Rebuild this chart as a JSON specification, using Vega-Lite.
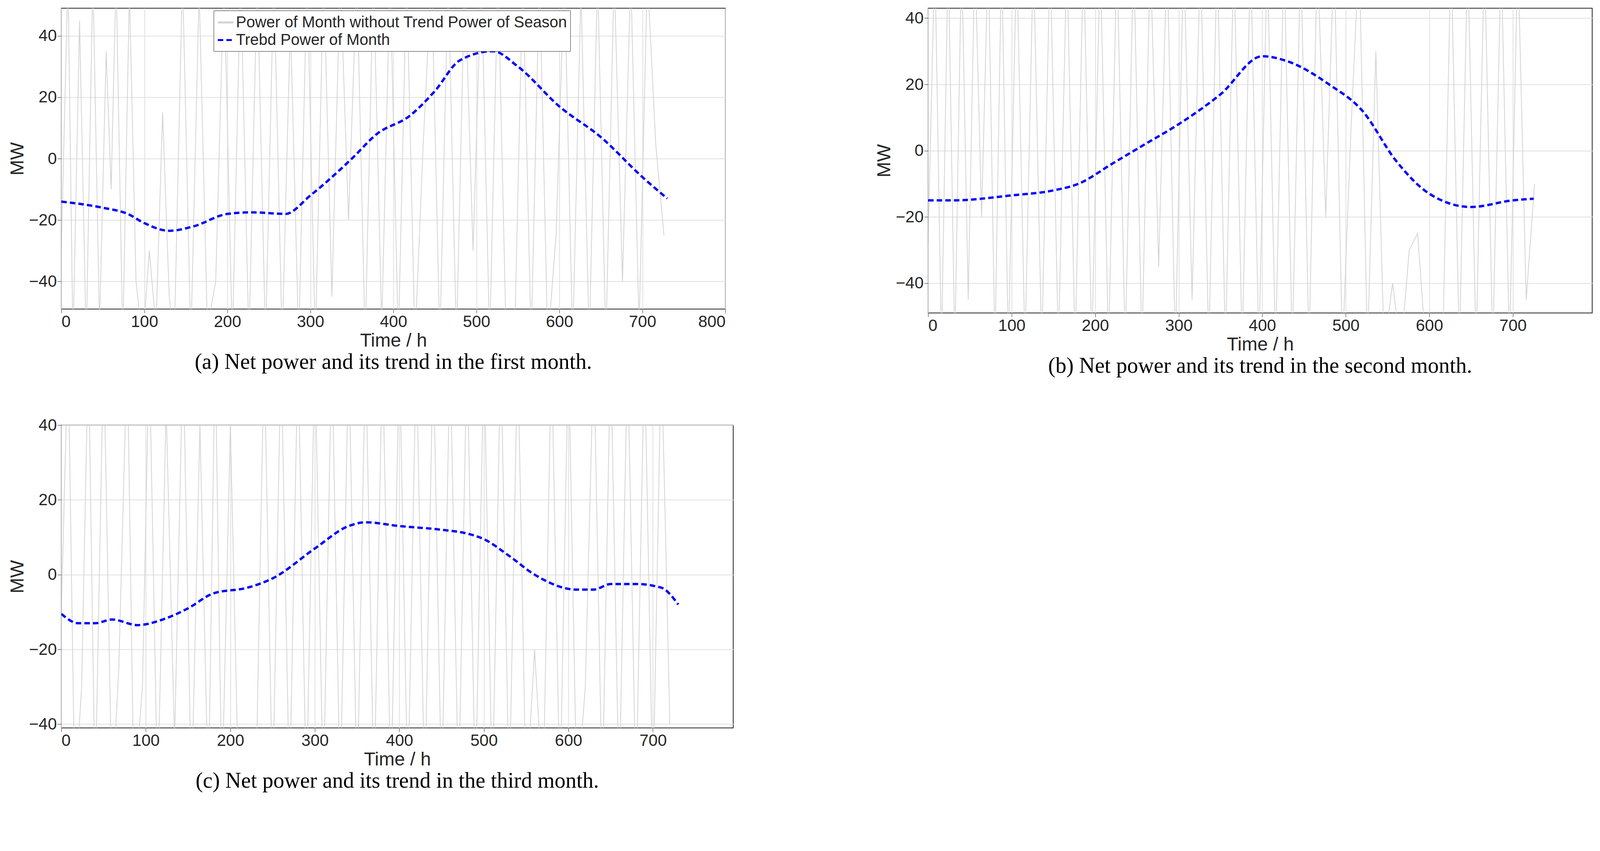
{
"$schema":"https://vega.github.io/schema/vega-lite/v6.json",
"background":"white",
"padding":{"left":20,"top":20,"right":30,"bottom":10},
"config":{"font":"Liberation Sans","view":{"stroke":"#262626","strokeWidth":2},
"axis":{"labelFontSize":42,"titleFontSize":48,"titleFontWeight":"normal","gridColor":"#e0e0e0","gridWidth":2,"domain":false,"tickColor":"#262626","labelColor":"#262626","titleColor":"#262626","tickSize":10},
"title":{"font":"Liberation Serif","fontSize":56,"fontWeight":"normal","orient":"bottom","anchor":"middle","color":"#000"},
"concat":{"spacing":100}},
"datasets":{
"ga":[[0,-30],[8,60],[14,-60],[22,45],[30,-60],[38,60],[46,-55],[54,35],[60,-10],[66,60],[74,-60],[82,55],[90,-40],[98,-60],[106,-30],[114,-55],[122,15],[130,-45],[136,-60],[146,60],[156,-60],[166,55],[176,-55],[186,-40],[196,60],[206,-60],[216,60],[226,-60],[236,60],[246,-60],[256,60],[266,-60],[276,45],[286,-60],[296,60],[306,-60],[316,60],[326,-45],[336,60],[346,-20],[356,60],[366,-60],[376,60],[386,-55],[396,60],[406,-60],[416,60],[426,-60],[436,5],[446,60],[456,-60],[466,60],[476,-60],[486,60],[496,-30],[506,60],[516,-60],[526,60],[536,-60],[546,-60],[556,60],[566,-60],[576,60],[586,-60],[596,-25],[606,60],[616,-60],[626,55],[636,-60],[646,60],[656,-60],[666,60],[676,-40],[686,60],[696,-55],[706,60],[716,5],[726,-25]],
"gb":[[0,-28],[8,60],[16,-60],[24,60],[32,-60],[40,60],[48,-45],[56,60],[64,-20],[72,60],[80,-60],[88,60],[96,-60],[106,60],[116,-60],[126,60],[136,-60],[146,60],[156,-60],[166,60],[176,-60],[186,60],[196,-60],[206,60],[216,-60],[226,60],[236,-60],[246,60],[256,-60],[266,60],[276,-35],[286,60],[296,-60],[306,60],[316,-45],[326,60],[336,-60],[346,60],[356,-60],[366,60],[376,-60],[386,60],[396,-60],[406,60],[416,-60],[426,60],[436,-60],[446,60],[456,-60],[466,60],[476,-20],[486,60],[496,-60],[506,5],[516,60],[526,-60],[536,30],[546,-60],[556,-40],[566,-60],[576,-30],[586,-25],[596,-60],[606,-60],[616,-60],[626,60],[636,-60],[646,60],[656,-60],[666,60],[676,-60],[686,60],[696,-60],[706,60],[716,-45],[726,-10]],
"gc":[[0,-10],[8,60],[16,-60],[24,-30],[32,60],[40,-60],[50,60],[60,-60],[68,-25],[78,60],[86,-60],[96,-30],[104,60],[114,-60],[124,45],[134,-45],[144,60],[154,-60],[164,40],[174,-60],[182,60],[190,-60],[200,40],[210,-60],[220,-45],[230,-60],[240,60],[250,-60],[260,60],[270,-60],[280,60],[290,-60],[300,60],[310,-60],[320,60],[330,-60],[340,60],[350,-60],[360,60],[370,-60],[380,60],[390,-60],[400,60],[410,-60],[420,60],[430,-60],[440,60],[450,-60],[460,60],[470,-60],[480,60],[490,-60],[500,60],[510,-60],[520,60],[530,-60],[540,60],[550,-60],[560,-20],[570,-60],[580,60],[590,-60],[600,60],[610,-60],[620,-30],[630,60],[640,-60],[650,60],[660,-60],[670,60],[680,-60],[690,60],[700,-60],[710,60],[720,-40]],
"ta":[[0,-14],[50,-16],[80,-18],[100,-21],[130,-23.5],[160,-22],[200,-18],[230,-17.5],[270,-18],[300,-12],[350,0],[380,8],[420,14],[450,22],[480,32],[520,35],[550,30],[600,17],[650,7],[700,-6],[730,-13]],
"tb":[[0,-15],[30,-15],[100,-13.5],[150,-12],[180,-10],[220,-4],[260,2],[300,8],[350,17],[400,28.5],[430,27],[480,20],[520,12],[560,-3],[600,-13],[650,-17],[700,-15],[725,-14.5]],
"tc":[[0,-10.5],[20,-13],[40,-13],[60,-12],[90,-13.5],[120,-12],[150,-9],[180,-5],[220,-3.5],[250,-1],[300,7],[340,13],[360,14],[400,13],[450,12],[480,11],[500,9.5],[530,5],[560,0],[610,-4],[630,-4],[650,-2.5],[680,-2.5],[710,-3.5],[730,-8]]
},
"vconcat":[
{"spacing":380,"hconcat":[
{"width":1700,"height":770,"title":"(a) Net power and its trend in the first month.",
"layer":[
{"data":{"name":"ga"},"transform":[{"calculate":"datum[0]","as":"t"},{"calculate":"datum[1]","as":"v"},{"calculate":"'Power of Month without Trend Power of Season'","as":"s"}],
"mark":{"type":"line","clip":true,"strokeWidth":2},
"encoding":{"x":{"field":"t","type":"quantitative","scale":{"domain":[0,800],"nice":false},"axis":{"values":[0,100,200,300,400,500,600,700,800],"title":"Time / h"}},
"y":{"field":"v","type":"quantitative","scale":{"domain":[-49,49],"nice":false},"axis":{"values":[-40,-20,0,20,40],"title":"MW"}},
"color":{"field":"s","type":"nominal","scale":{"domain":["Power of Month without Trend Power of Season","Trebd Power of Month"],"range":["#d3d3d3","#0000ff"]},
"legend":{"title":null,"orient":"none","legendX":390,"legendY":6,"labelFontSize":40,"labelLimit":0,"symbolType":"stroke","symbolSize":1600,"symbolStrokeWidth":5,"strokeColor":"#262626","fillColor":"white","padding":8,"labelColor":"#262626"}},
"strokeDash":{"field":"s","type":"nominal","scale":{"domain":["Power of Month without Trend Power of Season","Trebd Power of Month"],"range":[[1,0],[14,8]]},"legend":null}}},
{"data":{"name":"ta"},"transform":[{"calculate":"datum[0]","as":"t"},{"calculate":"datum[1]","as":"v"},{"calculate":"'Trebd Power of Month'","as":"s"}],
"mark":{"type":"line","clip":true,"strokeWidth":6,"interpolate":"monotone"},
"encoding":{"x":{"field":"t","type":"quantitative"},"y":{"field":"v","type":"quantitative"},"color":{"field":"s","type":"nominal"},"strokeDash":{"field":"s","type":"nominal"}}}
]},
{"width":1700,"height":780,"title":"(b) Net power and its trend in the second month.",
"layer":[
{"data":{"name":"gb"},"transform":[{"calculate":"datum[0]","as":"t"},{"calculate":"datum[1]","as":"v"}],
"mark":{"type":"line","clip":true,"strokeWidth":2,"color":"#d3d3d3"},
"encoding":{"x":{"field":"t","type":"quantitative","scale":{"domain":[0,795],"nice":false},"axis":{"values":[0,100,200,300,400,500,600,700],"title":"Time / h"}},
"y":{"field":"v","type":"quantitative","scale":{"domain":[-49,43],"nice":false},"axis":{"values":[-40,-20,0,20,40],"title":"MW"}}}},
{"data":{"name":"tb"},"transform":[{"calculate":"datum[0]","as":"t"},{"calculate":"datum[1]","as":"v"}],
"mark":{"type":"line","clip":true,"strokeWidth":6,"color":"#0000ff","strokeDash":[14,8],"interpolate":"monotone"},
"encoding":{"x":{"field":"t","type":"quantitative"},"y":{"field":"v","type":"quantitative"}}}
]}
]},
{"width":1720,"height":775,"title":"(c) Net power and its trend in the third month.",
"layer":[
{"data":{"name":"gc"},"transform":[{"calculate":"datum[0]","as":"t"},{"calculate":"datum[1]","as":"v"}],
"mark":{"type":"line","clip":true,"strokeWidth":2,"color":"#d3d3d3"},
"encoding":{"x":{"field":"t","type":"quantitative","scale":{"domain":[0,795],"nice":false},"axis":{"values":[0,100,200,300,400,500,600,700],"title":"Time / h"}},
"y":{"field":"v","type":"quantitative","scale":{"domain":[-41,40],"nice":false},"axis":{"values":[-40,-20,0,20,40],"title":"MW"}}}},
{"data":{"name":"tc"},"transform":[{"calculate":"datum[0]","as":"t"},{"calculate":"datum[1]","as":"v"}],
"mark":{"type":"line","clip":true,"strokeWidth":6,"color":"#0000ff","strokeDash":[14,8],"interpolate":"monotone"},
"encoding":{"x":{"field":"t","type":"quantitative"},"y":{"field":"v","type":"quantitative"}}}
]}
]
}
